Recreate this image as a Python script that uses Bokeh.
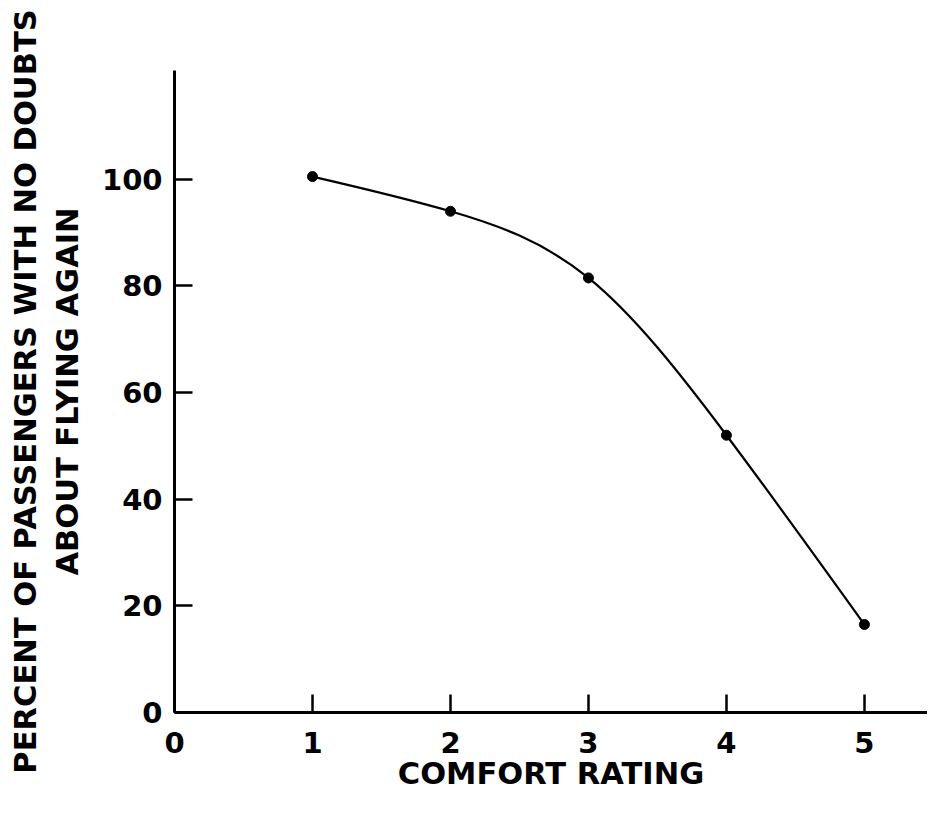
import numpy as np
from bokeh.plotting import figure
from bokeh.models import Range1d, FixedTicker
from bokeh.embed import file_html
from bokeh.resources import INLINE

# Data
comfort_rating = [1, 2, 3, 4, 5]
percent_no_doubts = [100.5, 94.0, 81.5, 52.0, 16.5]
x_ticks = [0, 1, 2, 3, 4, 5]
y_ticks = [0, 20, 40, 60, 80, 100]

FONT = "DejaVu Sans"

p = figure(width=927, height=795, output_backend="svg", toolbar_location=None,
           x_range=Range1d(0, 5.457), y_range=Range1d(0, 120.4),
           min_border_left=174, min_border_right=0, min_border_top=70, min_border_bottom=83)
p.outline_line_color = None
p.xgrid.grid_line_color = None
p.ygrid.grid_line_color = None
p.background_fill_color = "white"

for ax in (p.xaxis[0], p.yaxis[0]):
    ax.axis_line_width = 3
    ax.axis_line_color = "black"
    ax.major_tick_in = 18
    ax.major_tick_out = 0
    ax.major_tick_line_width = 2.5
    ax.major_tick_line_color = "black"
    ax.minor_tick_line_color = None
    ax.major_label_text_font = FONT
    ax.major_label_text_font_style = "bold"
    ax.major_label_text_font_size = "29px"
    ax.major_label_text_color = "black"
    ax.axis_label_text_font = FONT
    ax.axis_label_text_font_style = "bold"
    ax.axis_label_text_font_size = "30.5px"
    ax.axis_label_text_color = "black"

p.xaxis.ticker = FixedTicker(ticks=x_ticks)
p.yaxis.ticker = FixedTicker(ticks=y_ticks)
p.xaxis.major_label_standoff = 19
p.yaxis.major_label_standoff = 12
p.xaxis.axis_label = "COMFORT RATING"
p.xaxis.axis_label_standoff = 0
p.yaxis.axis_label = "PERCENT OF PASSENGERS WITH NO DOUBTS\nABOUT FLYING AGAIN"
p.yaxis.axis_label_standoff = 14

# Smooth curve through the points: natural cubic spline drawn as Bezier segments
xs = np.array(comfort_rating, dtype=float)
ys = np.array(percent_no_doubts, dtype=float)
n = len(xs)
h = np.diff(xs)
A = np.zeros((n, n))
b = np.zeros(n)
A[0, 0] = 1
A[-1, -1] = 1
for i in range(1, n - 1):
    A[i, i - 1] = h[i - 1]
    A[i, i] = 2 * (h[i - 1] + h[i])
    A[i, i + 1] = h[i]
    b[i] = 6 * ((ys[i + 1] - ys[i]) / h[i] - (ys[i] - ys[i - 1]) / h[i - 1])
M = np.linalg.solve(A, b)
slope = np.diff(ys) / h
d0 = slope - h * (2 * M[:-1] + M[1:]) / 6
d1 = slope + h * (M[:-1] + 2 * M[1:]) / 6
p.bezier(x0=xs[:-1], y0=ys[:-1], x1=xs[1:], y1=ys[1:],
         cx0=xs[:-1] + h / 3, cy0=ys[:-1] + h / 3 * d0,
         cx1=xs[1:] - h / 3, cy1=ys[1:] - h / 3 * d1,
         line_color="black", line_width=2.2)
p.scatter(comfort_rating, percent_no_doubts, size=10, color="black")

open("out.html", "w").write(file_html(p, INLINE))
